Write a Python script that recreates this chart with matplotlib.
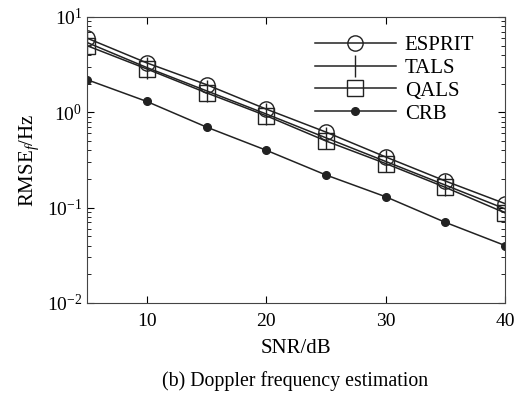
import matplotlib
matplotlib.use("Agg")
import matplotlib.pyplot as plt

plt.rcParams['font.family'] = ['Liberation Serif', 'DejaVu Serif']
plt.rcParams['mathtext.fontset'] = 'custom'
plt.rcParams['mathtext.rm'] = 'Liberation Serif'
plt.rcParams['mathtext.it'] = 'Liberation Serif:italic'

snr = [5, 10, 15, 20, 25, 30, 35, 40]
esprit = [6.0, 3.3, 1.95, 1.08, 0.62, 0.34, 0.19, 0.11]
tals = [5.4, 2.95, 1.68, 0.96, 0.54, 0.305, 0.172, 0.097]
qals = [5.0, 2.85, 1.6, 0.92, 0.50, 0.29, 0.163, 0.088]
crb = [2.2, 1.3, 0.70, 0.40, 0.22, 0.13, 0.07, 0.04]

fig = plt.figure(figsize=(5.15, 3.95), dpi=100)
ax = fig.add_axes([0.169, 0.233, 0.812, 0.724])

ax.semilogy(snr, esprit, color="#222222", lw=1.1, marker="o", ms=11, mfc="none", mec="#222222", mew=1, label="ESPRIT")
ax.semilogy(snr, tals, color="#222222", lw=1.1, marker="|", ms=16, mew=1, label="TALS")
ax.semilogy(snr, qals, color="#222222", lw=1.1, marker="s", ms=12, mfc="none", mec="#222222", mew=1, label="QALS")
ax.semilogy(snr, crb, color="#222222", lw=1.1, marker="o", ms=5.5, label="CRB")

ax.set_xlim(5, 40)
ax.set_ylim(1e-2, 1e1)
ax.set_xticks([10, 20, 30, 40])
ax.tick_params(which="both", direction="in", top=True, right=True, labelsize=14)
ax.tick_params(axis="x", pad=7)
ax.tick_params(which="major", length=5)
ax.tick_params(which="minor", length=3)
for s in ax.spines.values():
    s.set_color("#444444")

ax.set_xlabel("SNR/dB", fontsize=15, labelpad=7)
ax.set_ylabel(r"RMSE$_f$/Hz", fontsize=15, labelpad=4)

ax.legend(loc="upper right", bbox_to_anchor=(0.946, 0.965), frameon=False, fontsize=15,
          handlelength=3.9, labelspacing=0.16, borderaxespad=0, handletextpad=0.43)

fig.text(0.573, 0.022, "(b) Doppler frequency estimation", ha="center", fontsize=14.3)

fig.savefig("out.png", dpi=100)
